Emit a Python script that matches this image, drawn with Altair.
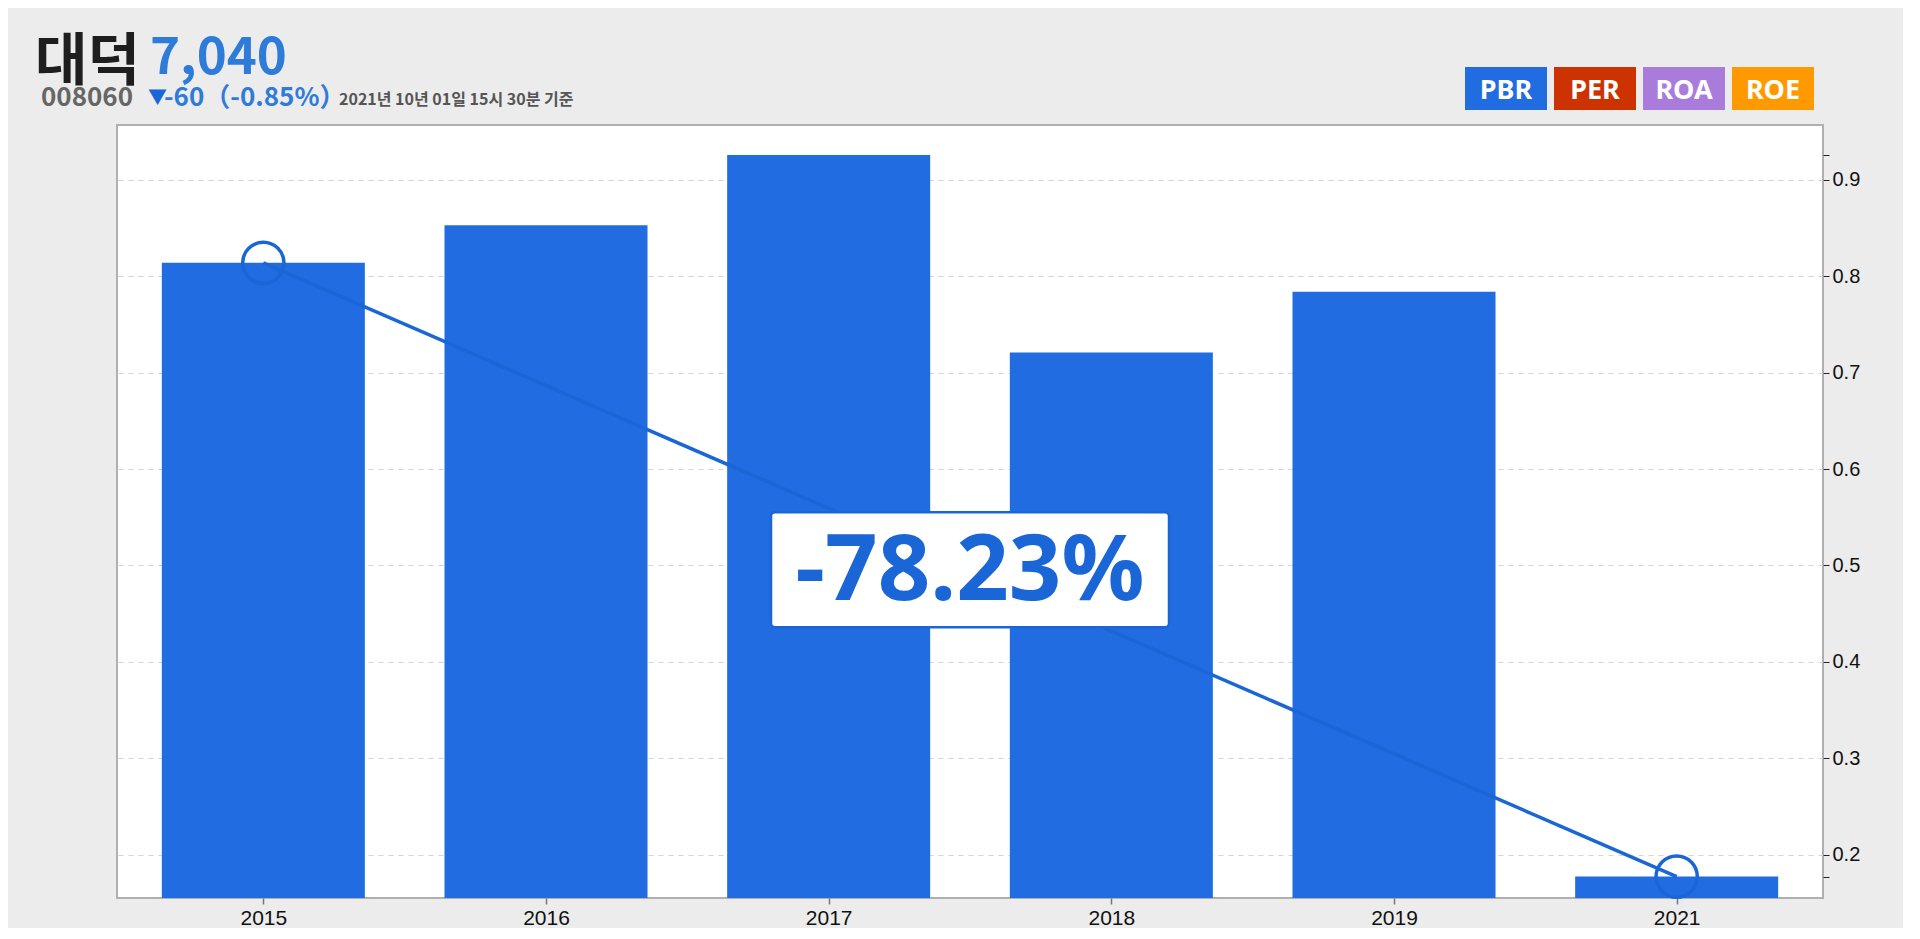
import json
import altair as alt
import pandas as pd

# ---- data ----
years = ["2015", "2016", "2017", "2018", "2019", "2021"]
pbr = [0.814, 0.853, 0.926, 0.721, 0.784, 0.1772]
grid_ticks = [0.2, 0.3, 0.4, 0.5, 0.6, 0.7, 0.8, 0.9]
buttons = ["PBR", "PER", "ROA", "ROE"]
button_colors = ["#206ce0", "#cc3300", "#a97bdb", "#ff9900"]
stock_name = ["대덕"]
price = ["7,040"]
stock_code = ["008060"]
change_arrow = ["▼"]
change_text = ["-60（-0.85%）"]
timestamp = ["2021년 10년 01일 15시 30분 기준"]

BAR = "#206ce0"
LINE = "#1a66d6"

df = pd.DataFrame({"idx": list(range(len(years))), "year": years, "pbr": pbr})
ends = df.iloc[[0, -1]].reset_index(drop=True)
mid = pd.DataFrame({
    "idx": [(ends["idx"].iloc[0] + ends["idx"].iloc[1]) / 2],
    "pbr": [(ends["pbr"].iloc[0] + ends["pbr"].iloc[1]) / 2],
    "label": [f"{(ends['pbr'].iloc[1] / ends['pbr'].iloc[0] - 1) * 100:.2f}%"],
})

axis_vals = grid_ticks + [min(pbr), max(pbr)]

x_enc = alt.X(
    "idx:Q",
    scale=alt.Scale(domain=[-0.5, len(years) - 0.5], nice=False, zero=False),
    axis=alt.Axis(
        values=list(range(len(years))),
        labelExpr=f"{json.dumps(years)}[datum.value]",
        grid=False, domain=False, tickSize=6, tickColor="#777", tickWidth=1.5,
        labelFontSize=21, labelColor="#111", labelFont="Liberation Sans",
        labelPadding=3, title=None,
    ),
)
y_enc = alt.Y(
    "pbr:Q",
    scale=alt.Scale(domain=[0.155, 0.957], nice=False, zero=False),
    axis=alt.Axis(
        orient="right", values=axis_vals,
        labelExpr="datum.value < 0.195 || datum.value > 0.905 ? '' : format(datum.value, '.1f')",
        grid=True, gridDash=[5, 5], gridColor="#d4d4d4", gridWidth=1,
        gridOpacity=alt.condition("datum.value < 0.195 || datum.value > 0.905", alt.value(0), alt.value(1)),
        domain=False, tickSize=6, tickColor="#222", labelFontSize=20,
        labelColor="#111", labelFont="Liberation Sans", labelPadding=3, title=None,
    ),
)

base = alt.Chart(df)
bars = base.mark_bar(color=BAR, width=203, clip=True).encode(x=x_enc, y=y_enc)
line = alt.Chart(ends).mark_line(color=LINE, strokeWidth=3.5).encode(x="idx:Q", y="pbr:Q")
circles = alt.Chart(ends).mark_point(
    shape="circle", size=1700, filled=False, strokeWidth=3.5, color=LINE, opacity=1
).encode(x="idx:Q", y="pbr:Q")
box = alt.Chart(mid).mark_rect(
    width=398, height=115, cornerRadius=4, fill="white", stroke=LINE, strokeWidth=2.5
).encode(x="idx:Q", y="pbr:Q")
box_text = alt.Chart(mid).mark_text(
    fontSize=92, fontWeight="bold", font="Noto Sans", color=LINE,
    align="center", baseline="middle", dy=2,
).encode(x="idx:Q", y="pbr:Q", text="label:N")


def header(values, x, y, size, color, font="Noto Sans CJK KR"):
    return alt.Chart(pd.DataFrame({"t": values})).mark_text(
        align="left", baseline="alphabetic", fontSize=size, fontWeight="bold",
        font=font, color=color,
    ).encode(x=alt.value(x), y=alt.value(y), text="t:N")


headers = [
    header(stock_name, -82, -45, 57, "#1e1e1e"),
    header(price, 33, -51, 51, "#2f7bd9"),
    header(stock_code, -76, -19, 26, "#666666"),
    header(change_arrow, 31, -21, 19, "#1a66d6"),
    header(change_text, 47, -19, 26, "#2f7bd9"),
    header(timestamp, 222, -20, 16, "#555555"),
]

btn_layers = []
for i, (name, col) in enumerate(zip(buttons, button_colors)):
    x0 = 1348 + i * 89
    d = pd.DataFrame({"t": [name]})
    btn_layers.append(
        alt.Chart(d).mark_rect(color=col).encode(
            x=alt.value(x0), x2=alt.value(x0 + 82), y=alt.value(-58), y2=alt.value(-15)
        )
    )
    btn_layers.append(
        alt.Chart(d).mark_text(
            align="center", baseline="alphabetic", fontSize=27, fontWeight="bold",
            font="Noto Sans", color="white",
        ).encode(x=alt.value(x0 + 41), y=alt.value(-26), text="t:N")
    )

chart = alt.layer(
    bars, line, circles, box, box_text, *headers, *btn_layers
).properties(
    width=1706, height=773,
    background="#ececec",
    padding={"left": 109, "top": 117, "right": 80, "bottom": 30},
    autosize=alt.AutoSizeParams(type="none"),
).configure_view(
    fill="white", stroke="#b0b0b0", strokeWidth=2
)

chart.save("out.html", embed_options={"renderer": "svg", "actions": False})
